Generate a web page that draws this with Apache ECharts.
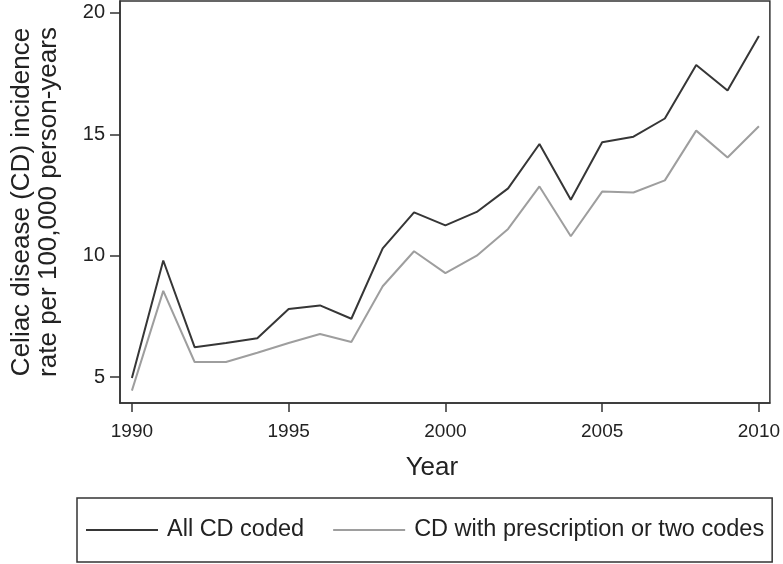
<!DOCTYPE html>
<html>
<head>
<meta charset="utf-8">
<script src="https://cdn.jsdelivr.net/npm/echarts@6/dist/echarts.min.js"></script>
<style>html,body{margin:0;padding:0;background:#fff;}#c{width:783px;height:564px;}</style>
</head>
<body>
<div id="c"></div>
<script>
const years = [1990,1991,1992,1993,1994,1995,1996,1997,1998,1999,2000,2001,2002,2003,2004,2005,2006,2007,2008,2009,2010];
const allCoded = [4.96,9.8,6.23,6.4,6.6,7.8,7.95,7.4,10.3,11.78,11.25,11.8,12.77,14.6,12.3,14.67,14.9,15.65,17.85,16.8,19.05];
const prescription = [4.44,8.55,5.62,5.62,6.0,6.4,6.77,6.44,8.74,10.18,9.28,10.0,11.1,12.85,10.8,12.64,12.6,13.1,15.15,14.04,15.33];
const xTicks = [1990,1995,2000,2005,2010];
const yTicks = [5,10,15,20];
const seriesNames = ['All CD coded','CD with prescription or two codes'];

const font = 'Liberation Sans, Arial, Helvetica, sans-serif';
const chart = echarts.init(document.getElementById('c'));
chart.setOption({
  animation: false,
  textStyle: {fontFamily: font},
  grid: {left: 118, right: 11, top: 1, bottom: 161, show: true, borderColor: '#333', borderWidth: 1.5, backgroundColor: '#fff'},
  xAxis: {
    type: 'value', min: 1989.62, max: 2010.35,
    name: 'Year', nameLocation: 'middle', nameGap: 52,
    nameTextStyle: {fontSize: 26, color: '#222', fontFamily: font, padding: [0, 26, 0, 0]},
    axisLine: {show: true, lineStyle: {color: '#333', width: 1.5}},
    axisTick: {show: true, inside: false, length: 9, customValues: xTicks, lineStyle: {color: '#333', width: 1.5}},
    axisLabel: {customValues: xTicks, fontSize: 19, color: '#222', margin: 19, fontFamily: font, formatter: v => String(v)},
    splitLine: {show: false}
  },
  yAxis: {
    type: 'value', min: 3.93, max: 20.49,
    name: 'Celiac disease (CD) incidence\nrate per 100,000 person-years', nameLocation: 'middle', nameGap: 58, nameRotate: 90,
    nameTextStyle: {fontSize: 26, lineHeight: 27, color: '#222', fontFamily: font},
    axisLine: {show: true, lineStyle: {color: '#333', width: 1.5}},
    axisTick: {show: true, inside: false, length: 10, customValues: yTicks, lineStyle: {color: '#333', width: 1.5}},
    axisLabel: {customValues: yTicks, fontSize: 20, color: '#222', margin: 15, fontFamily: font, formatter: v => String(v)},
    splitLine: {show: false}
  },
  legend: {
    left: 77, top: 498, orient: 'horizontal',
    padding: [20, 8, 20, 9],
    borderColor: '#333', borderWidth: 1.5,
    icon: 'rect',
    itemWidth: 72, itemHeight: 2, itemGap: 29,
    textStyle: {fontSize: 23.5, color: '#222', fontFamily: font, padding: [0, 0, 0, 4]},
    data: seriesNames
  },
  series: [
    {name: seriesNames[0], type: 'line', symbol: 'none', data: years.map((y, i) => [y, allCoded[i]]), lineStyle: {color: '#363636', width: 2}, itemStyle: {color: '#363636'}},
    {name: seriesNames[1], type: 'line', symbol: 'none', data: years.map((y, i) => [y, prescription[i]]), lineStyle: {color: '#9e9e9e', width: 2}, itemStyle: {color: '#9e9e9e'}}
  ]
});
</script>
</body>
</html>
